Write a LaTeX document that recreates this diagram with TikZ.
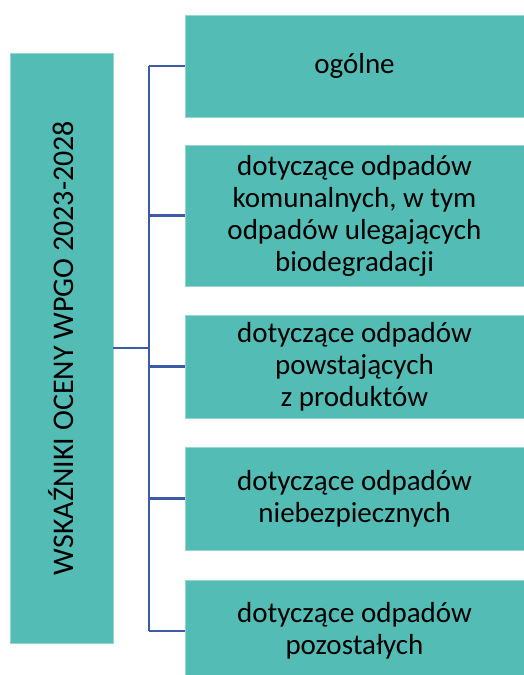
\documentclass[tikz,border=0pt]{standalone}
\usepackage{fontspec}
\setmainfont{Carlito}
\definecolor{boxteal}{RGB}{82,188,181}
\definecolor{boxedge}{RGB}{150,214,209}
\definecolor{linkblue}{RGB}{60,90,166}
\begin{document}
\begin{tikzpicture}[x=0.75pt,y=-0.75pt,
		box/.style={fill=boxteal, draw=boxedge, line width=0.4pt, inner sep=0pt, align=center, font=\fontsize{21.75pt}{24pt}\selectfont},
		gbox/.style={box, minimum width=254.25pt},
		link/.style={linkblue, line width=1.8pt}]
			\clip (0,0) rectangle (524,675);
			\useasboundingbox (0,0) rectangle (524,675);
			\node[box, minimum width=77.25pt, minimum height=442.5pt] (wsk) at (61.5,348) {};
			\node[rotate=90, font=\fontsize{22.5pt}{24pt}\selectfont] (wsktxt) at (wsk.center) {WSKAŹNIKI OCENY WPGO 2023-2028};
			\node[gbox, minimum height=76.5pt] (g1) at (354.5,66) {ogólne};
			\node[gbox, minimum height=105.75pt] (g2) at (354.5,215.5) {dotyczące odpadów\\komunalnych, w tym\\odpadów ulegających\\biodegradacji};
			\node[gbox, minimum height=77.25pt] (g3) at (354.5,366.5) {dotyczące odpadów\\powstających\\z produktów};
			\node[gbox, minimum height=77.25pt] (g4) at (354.5,498.5) {dotyczące odpadów\\niebezpiecznych};
			\node[gbox, minimum height=76.5pt] (g5) at (354.5,631) {dotyczące odpadów\\pozostałych};
			\draw[link] (wsk.east) -- ++(36,0) coordinate (bus);
			\draw[link] (bus |- g1.west) -- (bus |- g5.west);
			\draw[link] (bus |- g1.west) -- (g1.west);
			\draw[link] (bus |- g2.west) -- (g2.west);
			\draw[link] (bus |- g3.west) -- (g3.west);
			\draw[link] (bus |- g4.west) -- (g4.west);
			\draw[link] (bus |- g5.west) -- (g5.west);
		\end{tikzpicture}
\end{document}
